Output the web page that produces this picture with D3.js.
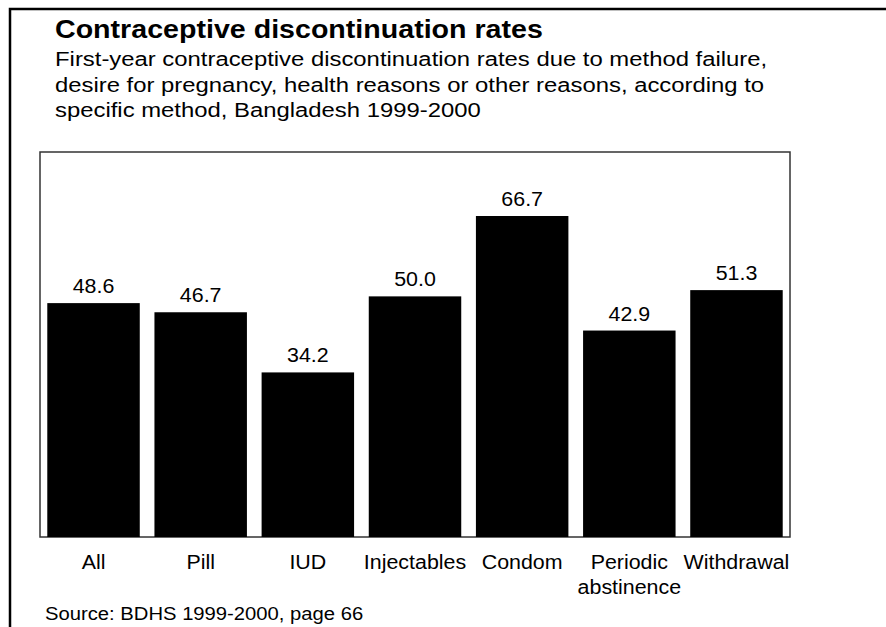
<!DOCTYPE html>
<html>
<head>
<meta charset="utf-8">
<script src="https://cdn.jsdelivr.net/npm/d3@7"></script>
<style>
  body { margin: 0; background: #fff; }
  text { font-family: Arial, "Liberation Sans", sans-serif; fill: #000; }
</style>
</head>
<body>
<svg id="chart"></svg>
<script>
const methods = ["All", "Pill", "IUD", "Injectables", "Condom", "Periodic abstinence", "Withdrawal"];
const rates = [48.6, 46.7, 34.2, 50.0, 66.7, 42.9, 51.3];
const yDomain = [0, 80];

const titleText = "Contraceptive discontinuation rates";
const subtitleLines = [
  "First-year contraceptive discontinuation rates due to method failure,",
  "desire for pregnancy, health reasons or other reasons, according to",
  "specific method, Bangladesh 1999-2000"
];
const sourceText = "Source: BDHS 1999-2000, page 66";

const WIDTH = 886;
const HEIGHT = 627;

const PLOT = { left: 40, top: 152, right: 790, bottom: 537 };

// the reference text is a bit stretched sideways
const STRETCH_TITLE = 1.144;
const STRETCH_SUB = 1.137;
const STRETCH_LABEL = 1.07;
const STRETCH_SOURCE = 1.094;

const svg = d3.select("#chart").attr("width", WIDTH).attr("height", HEIGHT);

const place = (x0, y0, sx) => `translate(${x0},${y0}) scale(${sx},1)`;

// outer frame (runs off right and bottom)
svg.append("rect")
  .attr("x", 10).attr("y", 9)
  .attr("width", WIDTH).attr("height", HEIGHT)
  .attr("fill", "none")
  .attr("stroke", "#000")
  .attr("stroke-width", 2.5);

svg.append("text")
  .attr("transform", place(55, 38, STRETCH_TITLE))
  .style("font-size", "25px")
  .style("font-weight", "bold")
  .text(titleText);

svg.append("g")
  .selectAll("text")
  .data(subtitleLines)
  .join("text")
  .attr("transform", (d, i) => place(55, 66 + i * 25.5, STRETCH_SUB))
  .style("font-size", "21px")
  .text((d) => d);

let x = d3.scaleBand()
  .domain(methods)
  .range([PLOT.left, PLOT.right])
  .paddingInner(0.137)
  .paddingOuter(0.068);

let y = d3.scaleLinear()
  .domain(yDomain)
  .range([PLOT.bottom, PLOT.top]);

// plot box
svg.append("rect")
  .attr("x", PLOT.left).attr("y", PLOT.top)
  .attr("width", PLOT.right - PLOT.left)
  .attr("height", PLOT.bottom - PLOT.top)
  .attr("fill", "none")
  .attr("stroke", "#333")
  .attr("stroke-width", 1.5);

svg.append("g")
  .selectAll("rect")
  .data(rates)
  .join("rect")
  .attr("x", (d, i) => x(methods[i]))
  .attr("y", (d) => y(d))
  .attr("width", x.bandwidth())
  .attr("height", (d) => y(0) - y(d))
  .attr("fill", "#000");

svg.append("g")
  .selectAll("text")
  .data(rates)
  .join("text")
  .attr("transform", (d, i) =>
    place(x(methods[i]) + x.bandwidth() / 2, y(d) - 10, STRETCH_LABEL))
  .attr("text-anchor", "middle")
  .style("font-size", "20px")
  .text((d) => d.toFixed(1));

// category labels, wrapped onto two lines where needed
let cats = svg.append("g")
  .selectAll("text")
  .data(methods)
  .join("text")
  .attr("transform", (d) => place(x(d) + x.bandwidth() / 2, 569, STRETCH_LABEL))
  .attr("text-anchor", "middle")
  .style("font-size", "20px");

cats.each(function (d) {
  let words = d === "Periodic abstinence" ? d.split(" ") : [d];
  let t = d3.select(this);
  words.forEach((w, i) => {
    t.append("tspan")
      .attr("x", 0)
      .attr("dy", i === 0 ? 0 : 25)
      .text(w);
  });
});

svg.append("text")
  .attr("transform", place(45, 620, STRETCH_SOURCE))
  .style("font-size", "18.5px")
  .text(sourceText);
</script>
</body>
</html>
